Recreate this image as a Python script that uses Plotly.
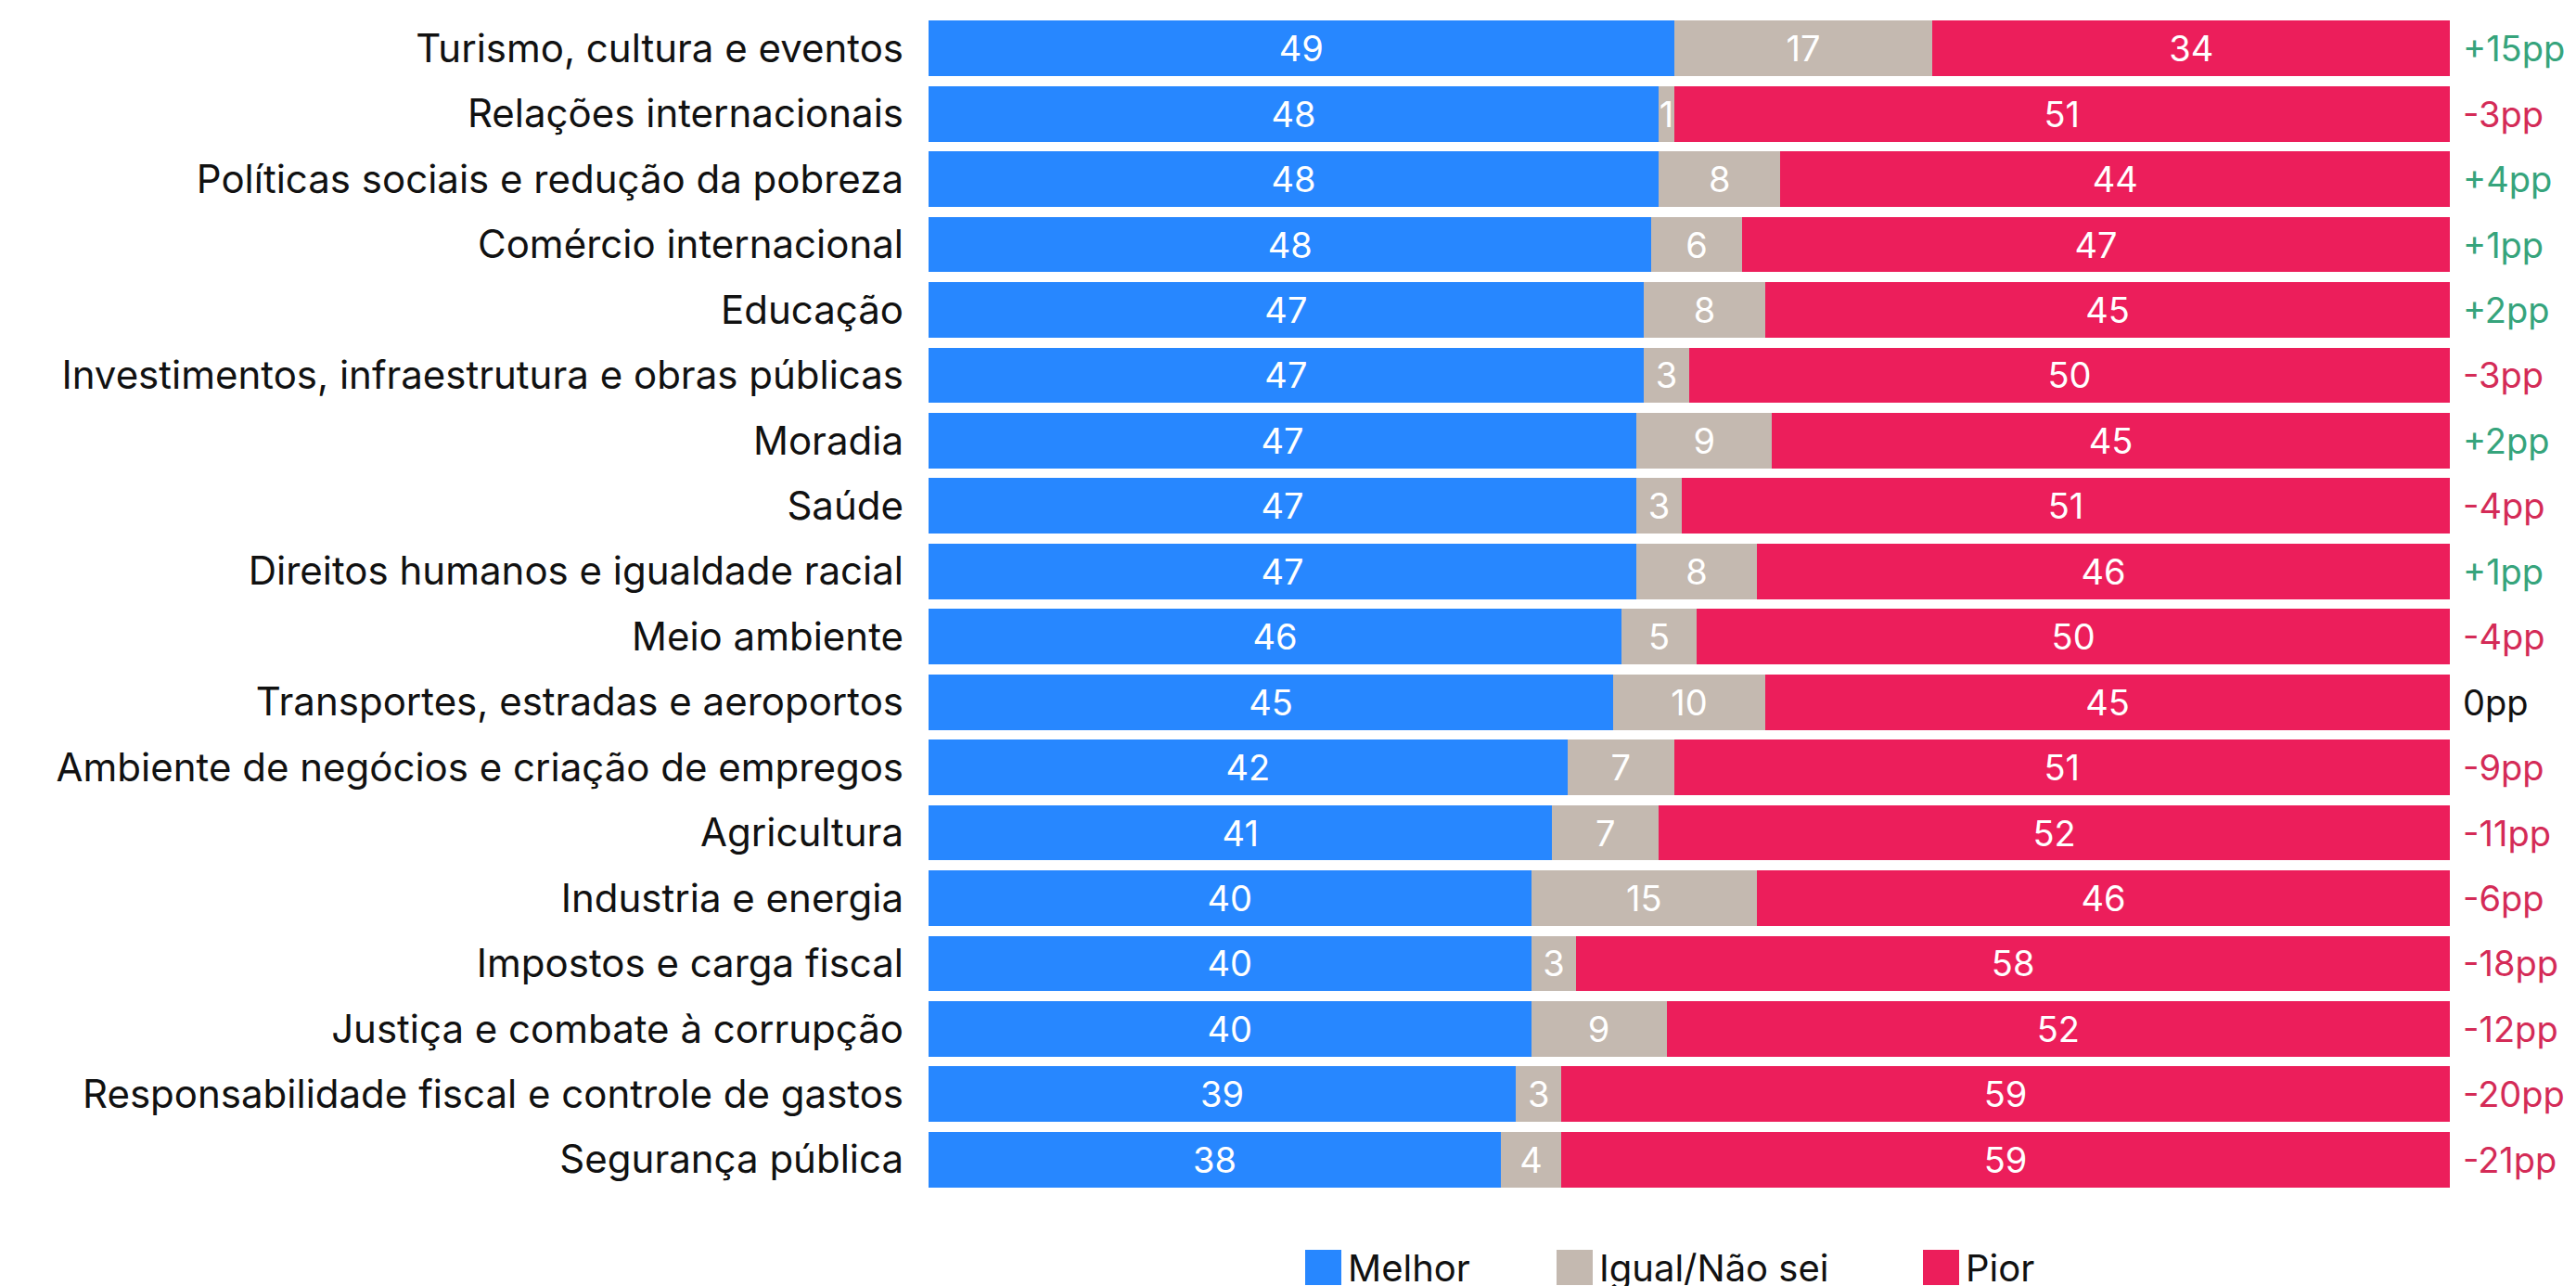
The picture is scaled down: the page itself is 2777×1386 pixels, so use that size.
import plotly.graph_objects as go

categories = [
    "Turismo, cultura e eventos",
    "Relações internacionais",
    "Políticas sociais e redução da pobreza",
    "Comércio internacional",
    "Educação",
    "Investimentos, infraestrutura e obras públicas",
    "Moradia",
    "Saúde",
    "Direitos humanos e igualdade racial",
    "Meio ambiente",
    "Transportes, estradas e aeroportos",
    "Ambiente de negócios e criação de empregos",
    "Agricultura",
    "Industria e energia",
    "Impostos e carga fiscal",
    "Justiça e combate à corrupção",
    "Responsabilidade fiscal e controle de gastos",
    "Segurança pública",
]
melhor = [49, 48, 48, 48, 47, 47, 47, 47, 47, 46, 45, 42, 41, 40, 40, 40, 39, 38]
igual = [17, 1, 8, 6, 8, 3, 9, 3, 8, 5, 10, 7, 7, 15, 3, 9, 3, 4]
pior = [34, 51, 44, 47, 45, 50, 45, 51, 46, 50, 45, 51, 52, 46, 58, 52, 59, 59]
saldo = [15, -3, 4, 1, 2, -3, 2, -4, 1, -4, 0, -9, -11, -6, -18, -12, -20, -21]

series_names = ["Melhor", "Igual/Não sei", "Pior"]
series_values = [melhor, igual, pior]
series_colors = ["#2787FF", "#C4B9B0", "#EC1E5B"]

FONT = "Inter"
W, H = 2777, 1386
ML, MR, MT, MB = 993, 144, 9, 109
PW = W - ML - MR
PH = H - MT - MB

fig = go.Figure()
for name, vals, col in zip(series_names, series_values, series_colors):
    fig.add_trace(go.Bar(
        y=categories, x=vals, name=name, orientation="h",
        marker=dict(color=col, line=dict(width=0)),
        text=vals, texttemplate="%{text}",
        textposition="inside", insidetextanchor="middle", textangle=0,
        textfont=dict(color="white", size=38, family=FONT),
        showlegend=False,
    ))

# change annotations
for cat, s in zip(categories, saldo):
    if s > 0:
        txt, col = f"+{s}pp", "#36A47C"
    elif s < 0:
        txt, col = f"-{abs(s)}pp", "#D42B57"
    else:
        txt, col = "0pp", "#111111"
    fig.add_annotation(x=1, xref="paper", y=cat, yref="y", text=txt,
                       xanchor="left", yanchor="middle", xshift=12, showarrow=False,
                       font=dict(size=38, color=col, family=FONT))

# custom legend
legend_px = [1399, 1670, 2065]
legend_y = -(1358 - (H - MB)) / PH
shapes = []
for name, col, px in zip(series_names, series_colors, legend_px):
    xp = (px - ML) / PW
    shapes.append(dict(type="rect", xref="paper", yref="paper",
                       xsizemode="pixel", ysizemode="pixel",
                       xanchor=xp, yanchor=legend_y,
                       x0=0, x1=39, y0=-19, y1=19,
                       fillcolor=col, line=dict(width=0)))
    fig.add_annotation(x=xp, xref="paper", y=legend_y, yref="paper",
                       text=name, xanchor="left", yanchor="middle",
                       xshift=44, showarrow=False,
                       font=dict(size=40, color="#111111", family=FONT))

fig.update_layout(
    width=W, height=H,
    barmode="stack", barnorm="percent", bargap=0.15,
    margin=dict(l=ML, r=MR, t=MT, b=MB),
    plot_bgcolor="white", paper_bgcolor="white",
    font=dict(family=FONT, size=42, color="#111111"),
    uniformtext=dict(minsize=38, mode="show"),
    shapes=shapes,
)
fig.update_xaxes(visible=False, range=[0, 100], fixedrange=True)
fig.update_yaxes(autorange="reversed", showgrid=False, showline=False,
                 ticks="", ticklabelstandoff=26,
                 tickfont=dict(size=42, color="#111111", family=FONT))

fig.write_html("out.html")
